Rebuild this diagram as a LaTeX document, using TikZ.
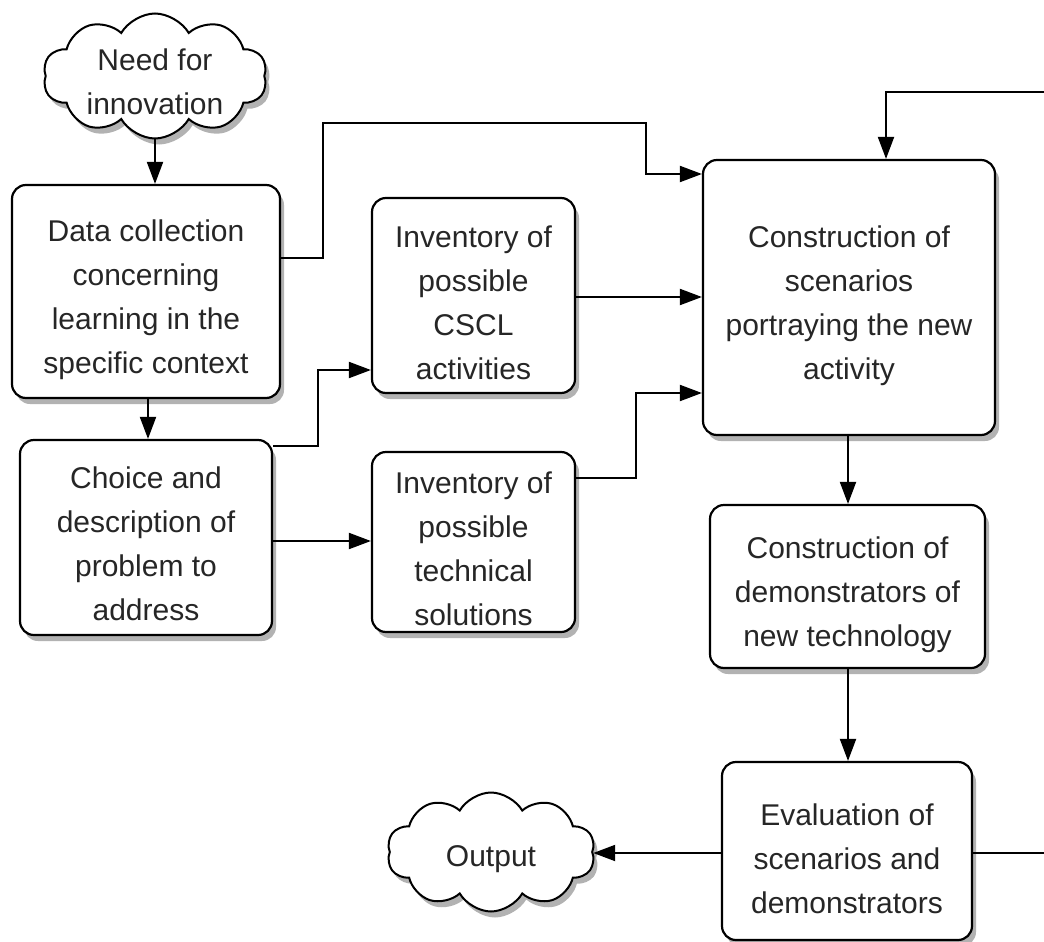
\documentclass[tikz,border=0pt]{standalone}
\usepackage{fontspec}
\setmainfont{Liberation Sans}
\usetikzlibrary{arrows.meta,shapes.symbols,shadows}
\begin{document}
\begin{tikzpicture}[x=1pt,y=-1pt,
  shad/.style={drop shadow={shadow xshift=4pt,shadow yshift=-6pt,opacity=0.3,fill=black}},
  box/.style={draw=black,line width=2.2pt,rounded corners=14pt,fill=white,inner sep=0pt,shad},
  cloudbox/.style={cloud,cloud puffs=10,cloud puff arc=120,cloud ignores aspect,draw=black,
    line width=2pt,fill=white,inner sep=0pt,shad},
  txt/.style={align=center,font=\fontsize{30}{44}\selectfont,text=black!85},
  ln/.style={line width=2pt,draw=black},
  arr/.style={ln,-{Triangle[length=22pt,width=16pt]}}]
\useasboundingbox (0,0) rectangle (1044,942);
\fill[white] (0,0) rectangle (1044,942);

\node[box,minimum width=268pt,minimum height=213pt] (data) at (146,291.5) {};
\node[txt] (datat) at ([yshift=-8pt]data.center)
  {Data collection\\concerning\\learning in the\\specific context};
\node[box,minimum width=252pt,minimum height=195pt] (choice) at (146,537.5) {};
\node[txt] (choicet) at ([yshift=-6pt]choice.center)
  {Choice and\\description of\\problem to\\address};
\node[box,minimum width=203pt,minimum height=195pt] (cscl) at (473.5,295.5) {};
\node[txt] (csclt) at ([yshift=-7pt]cscl.center)
  {Inventory of\\possible\\CSCL\\activities};
\node[box,minimum width=203pt,minimum height=180pt] (tech) at (473.5,542) {};
\node[txt] (techt) at ([yshift=-7pt]tech.center)
  {Inventory of\\possible\\technical\\solutions};
\node[box,minimum width=292pt,minimum height=275pt] (scen) at (849,297.5) {};
\node[txt] (scent) at ([yshift=-8pt]scen.center)
  {Construction of\\scenarios\\portraying the new\\activity};
\node[box,minimum width=275pt,minimum height=163pt] (demo) at (847.5,586.5) {};
\node[txt] (demot) at ([yshift=-8pt]demo.center)
  {Construction of\\demonstrators of\\new technology};
\node[box,minimum width=250pt,minimum height=178pt] (eval) at (847,851) {};
\node[txt] (evalt) at ([yshift=-8pt]eval.center)
  {Evaluation of\\scenarios and\\demonstrators};
\node[cloudbox,minimum width=224pt,minimum height=125pt] (need) at (155,76) {};
\node[txt] (needt) at ([yshift=-6pt]need.center) {Need for\\innovation};
\node[cloudbox,minimum width=208pt,minimum height=119pt] (out) at (491,852) {};
\node[txt] (outt) at ([yshift=-7pt]out.center) {Output};

\coordinate (r1) at (1044,853);
\coordinate (r2) at (1044,92);

\draw[arr] (need.south) -- (need.south |- data.north);
\draw[arr] (data.east |- 0,258) -| (323,123) -| (646,174) -- (scen.west |- 0,174);
\draw[arr] (data.south -| 148,0) -- (choice.north -| 148,0);
\draw[arr] (choice.east |- 0,446) -| (318,370) -- (cscl.west |- 0,370);
\draw[arr] (choice.east |- 0,541) -- (tech.west |- 0,541);
\draw[arr] (cscl.east |- 0,297) -- (scen.west |- 0,297);
\draw[arr] (tech.east |- 0,478) -| (636,393) -- (scen.west |- 0,393);
\draw[arr] (scen.south -| 848,0) -- (demo.north -| 848,0);
\draw[arr] (demo.south -| 848,0) -- (eval.north -| 848,0);
\draw[arr] (eval.west |- 0,853) -- (out.east |- 0,853);
\draw[ln] (eval.east |- r1) -- (r1);
\draw[arr] (r2) -| (scen.north -| 886,0);
\end{tikzpicture}
\end{document}
